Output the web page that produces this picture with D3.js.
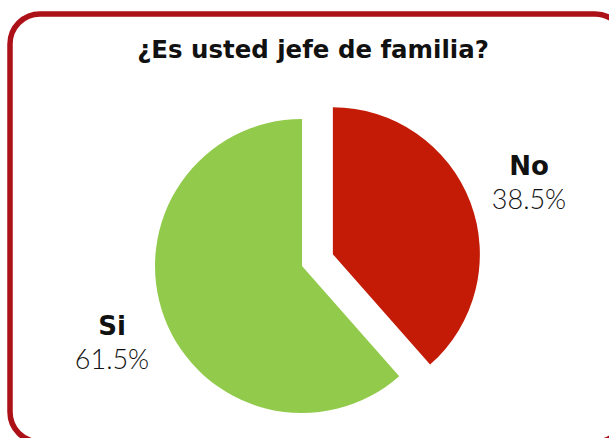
<!DOCTYPE html>
<html>
<head>
<meta charset="utf-8">
<script src="https://cdn.jsdelivr.net/npm/d3@7"></script>
<style>
  html, body { margin: 0; padding: 0; background: #ffffff; }
  svg { display: block; }
</style>
</head>
<body>
<script>
// Chart data
const title = "¿Es usted jefe de familia?";
const categories = ["No", "Si"];
const values = [38.5, 61.5];
const valueLabels = ["38.5%", "61.5%"];

const width = 609, height = 438;
const svg = d3.select("body").append("svg")
  .attr("width", width)
  .attr("height", height);

// Rounded frame
svg.append("rect")
  .attr("x", 10).attr("y", 14)
  .attr("width", 615).attr("height", 428)
  .attr("rx", 30).attr("ry", 30)
  .attr("fill", "#ffffff")
  .attr("stroke", "#ac1118")
  .attr("stroke-width", 5.5);

// Title, sized to span the heading width
const titleText = svg.append("text")
  .attr("x", 313).attr("y", 58)
  .attr("text-anchor", "middle")
  .style("font-family", "'DejaVu Sans', sans-serif")
  .style("font-weight", 700)
  .style("font-size", "24px")
  .attr("fill", "#111")
  .text(title);
const tw = titleText.node().getComputedTextLength();
titleText.style("font-size", (24 * 352 / tw).toFixed(2) + "px");

// Pie
const cx = 302, cy = 266, r = 147, explode = 33;
const color = d3.scaleOrdinal().domain(categories).range(["#c41b06", "#92cb4c"]);

const pie = d3.pie().sort(null).value(d => d.value);
const arcs = pie(categories.map((c, i) => ({ category: c, value: values[i], label: valueLabels[i] })));
const arc = d3.arc().innerRadius(0).outerRadius(r);

const g = svg.append("g").attr("transform", `translate(${cx},${cy})`);
g.selectAll("path")
  .data(arcs)
  .join("path")
  .attr("d", arc)
  .attr("fill", d => color(d.data.category))
  .attr("transform", d => {
    if (d.data.category !== "No") return null;
    const mid = (d.startAngle + d.endAngle) / 2;
    return `translate(${explode * Math.sin(mid)},${-explode * Math.cos(mid)})`;
  });

// Category labels with percentages
const labelPos = { No: [cx + 227, cy - 91], Si: [cx - 190, cy + 69] };
const labels = svg.append("g")
  .selectAll("g")
  .data(arcs)
  .join("g")
  .attr("transform", d => `translate(${labelPos[d.data.category][0]},${labelPos[d.data.category][1]})`);

labels.append("text")
  .attr("text-anchor", "middle")
  .style("font-family", "'DejaVu Sans', sans-serif")
  .style("font-weight", 700)
  .style("font-size", "26px")
  .attr("fill", "#111")
  .text(d => d.data.category);

labels.append("text")
  .attr("text-anchor", "middle")
  .attr("y", 34)
  .style("font-family", "Lato, 'DejaVu Sans', sans-serif")
  .style("font-weight", 300)
  .style("font-size", "27px")
  .attr("fill", "#111")
  .text(d => d.data.label);
</script>
</body>
</html>
